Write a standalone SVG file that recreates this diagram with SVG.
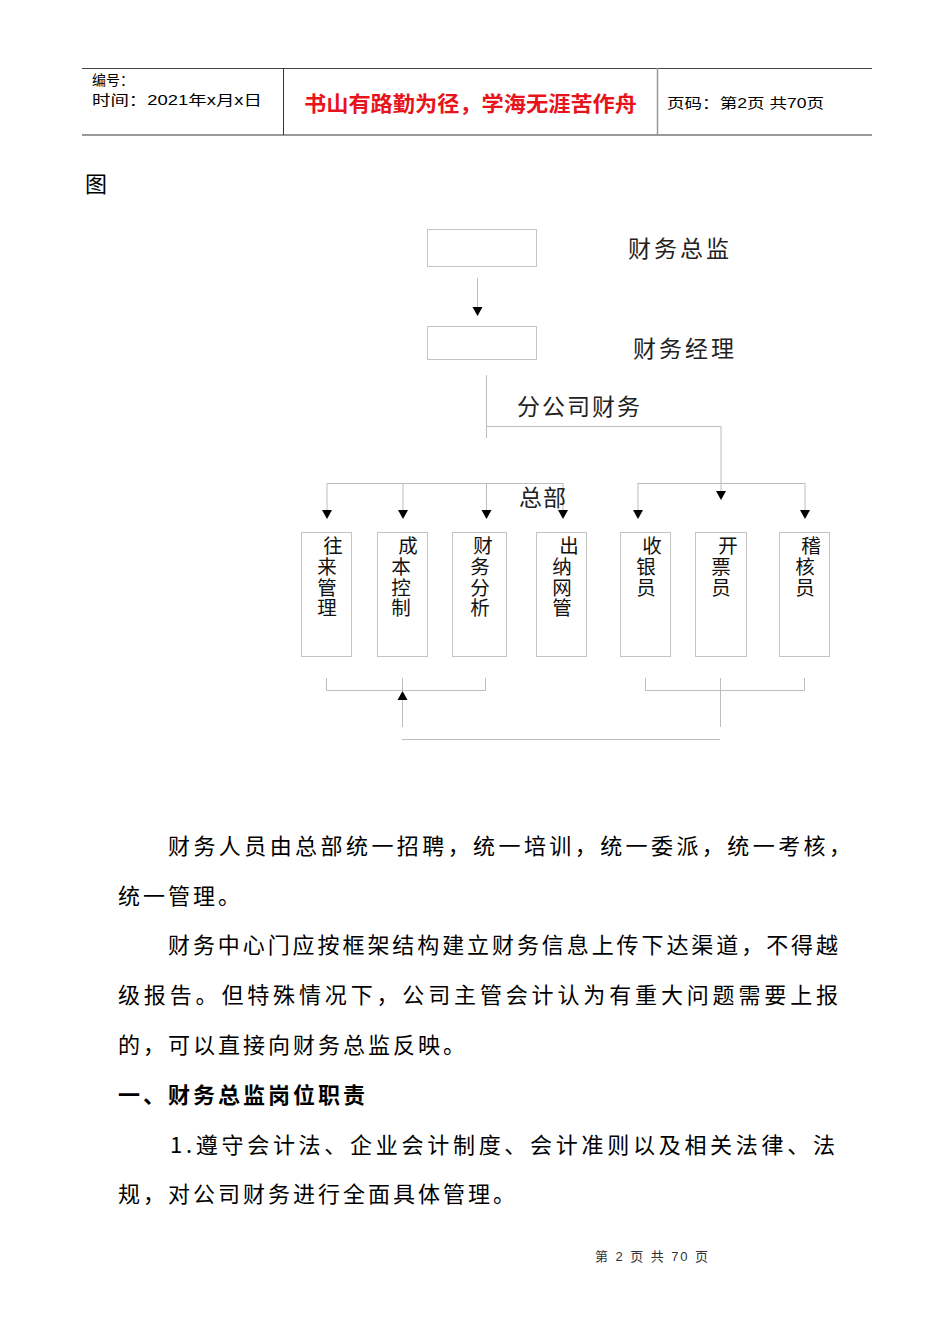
<svg xmlns="http://www.w3.org/2000/svg" width="950" height="1344" viewBox="0 0 950 1344">
<style>
text{font-family:"Liberation Sans","Noto Sans CJK SC",sans-serif;fill:#000}
.cjk{font-family:"Noto Sans CJK SC","Liberation Sans",sans-serif}
.hdr{font-size:14px}
.body{font-size:22px;font-family:"Noto Sans CJK SC",sans-serif}
.lbl{font-size:23px;font-family:"Noto Sans CJK SC",sans-serif;fill:#222}
.vt{font-size:19.5px;font-family:"Noto Sans CJK SC",sans-serif;fill:#111;writing-mode:vertical-rl;text-orientation:upright;letter-spacing:1px}
.box{fill:#fff;stroke:#c4c4c4;stroke-width:1}
.ln{stroke:#bdbdbd;stroke-width:1;fill:none}
.ah{fill:#000}
</style>
<rect width="950" height="1344" fill="#fff"/>
<g id="header">
<line x1="82" y1="68.5" x2="872" y2="68.5" stroke="#444" stroke-width="1"/>
<line x1="82" y1="135" x2="872" y2="135" stroke="#999" stroke-width="2"/>
<line x1="283.5" y1="68" x2="283.5" y2="135" stroke="#333" stroke-width="1"/>
<line x1="657.5" y1="68" x2="657.5" y2="135" stroke="#999" stroke-width="1.5"/>
<text class="hdr cjk" x="92" y="85">编号：</text>
<text class="hdr" x="92" y="105" textLength="170" lengthAdjust="spacingAndGlyphs">时间：2021年x月x日</text>
<text class="cjk" x="304" y="111" font-size="21" font-weight="bold" style="fill:#e8141b" textLength="333" lengthAdjust="spacingAndGlyphs">书山有路勤为径，学海无涯苦作舟</text>
<text class="hdr" x="667" y="108" textLength="157" lengthAdjust="spacingAndGlyphs">页码：第2页 共70页</text>
</g>
<text class="body" x="85" y="192" font-size="22">图</text>
<g id="connectors">
<line class="ln" x1="477.5" y1="278" x2="477.5" y2="307"/>
<polygon class="ah" points="472.5,307 482.5,307 477.5,316"/>
<line class="ln" x1="486.5" y1="375" x2="486.5" y2="438"/>
<line class="ln" x1="486" y1="426.5" x2="721" y2="426.5"/>
<line class="ln" x1="721" y1="426" x2="721" y2="491"/>
<polygon class="ah" points="716,491 726,491 721,500"/>
<line class="ln" x1="327" y1="483.5" x2="563" y2="483.5"/>
<line class="ln" x1="327" y1="483" x2="327" y2="510"/>
<line class="ln" x1="403" y1="483" x2="403" y2="510"/>
<line class="ln" x1="486.5" y1="483" x2="486.5" y2="510"/>
<line class="ln" x1="563" y1="483" x2="563" y2="510"/>
<polygon class="ah" points="322,510 332,510 327,519"/>
<polygon class="ah" points="398,510 408,510 403,519"/>
<polygon class="ah" points="481.5,510 491.5,510 486.5,519"/>
<polygon class="ah" points="558,510 568,510 563,519"/>
<line class="ln" x1="638" y1="483.5" x2="805" y2="483.5"/>
<line class="ln" x1="638" y1="483" x2="638" y2="510"/>
<line class="ln" x1="805" y1="483" x2="805" y2="510"/>
<polygon class="ah" points="633,510 643,510 638,519"/>
<polygon class="ah" points="800,510 810,510 805,519"/>
<polyline class="ln" points="326.5,678 326.5,690.5 485.5,690.5 485.5,678"/>
<line class="ln" x1="402.5" y1="678" x2="402.5" y2="690"/>
<polygon class="ah" points="402.5,691 397.5,700 407.5,700"/>
<line class="ln" x1="402.5" y1="700" x2="402.5" y2="727"/>
<line class="ln" x1="402" y1="739.5" x2="720" y2="739.5"/>
<polyline class="ln" points="645.5,678 645.5,690.5 804.5,690.5 804.5,678"/>
<line class="ln" x1="720.5" y1="678" x2="720.5" y2="727"/>
</g>
<g id="n-zongjian">
<rect class="box" x="427.5" y="229.5" width="109" height="37"/>
<text class="lbl" x="628" y="257" textLength="101" lengthAdjust="spacing">财务总监</text>
</g>
<g id="n-jingli">
<rect class="box" x="427.5" y="326.5" width="109" height="33"/>
<text class="lbl" x="633" y="357" textLength="101" lengthAdjust="spacing">财务经理</text>
</g>
<g id="l-fengongsi">
<text class="lbl" x="517" y="415" textLength="123" lengthAdjust="spacing">分公司财务</text>
</g>
<g id="l-zongbu">
<text class="lbl" x="519" y="506" textLength="47" lengthAdjust="spacing">总部</text>
</g>
<g id="n-wanglai">
<rect class="box" x="301.5" y="532.5" width="50" height="124"/>
<text class="vt" x="333" y="536">往</text>
<text class="vt" x="327" y="557">来管理</text>
</g>
<g id="n-chengben">
<rect class="box" x="377.5" y="532.5" width="50" height="124"/>
<text class="vt" x="408" y="536">成</text>
<text class="vt" x="401" y="557">本控制</text>
</g>
<g id="n-fenxi">
<rect class="box" x="452.5" y="532.5" width="54" height="124"/>
<text class="vt" x="483" y="536">财</text>
<text class="vt" x="480" y="557">务分析</text>
</g>
<g id="n-chuna">
<rect class="box" x="536.5" y="532.5" width="50" height="124"/>
<text class="vt" x="569" y="536">出</text>
<text class="vt" x="562" y="557">纳网管</text>
</g>
<g id="n-shouyin">
<rect class="box" x="620.5" y="532.5" width="50" height="124"/>
<text class="vt" x="652" y="536">收</text>
<text class="vt" x="646" y="557">银员</text>
</g>
<g id="n-kaipiao">
<rect class="box" x="695.5" y="532.5" width="51" height="124"/>
<text class="vt" x="728" y="536">开</text>
<text class="vt" x="721" y="557">票员</text>
</g>
<g id="n-jihe">
<rect class="box" x="779.5" y="532.5" width="50" height="124"/>
<text class="vt" x="811" y="536">稽</text>
<text class="vt" x="805" y="557">核员</text>
</g>
<g id="body">
<text class="body" x="168" y="854" textLength="683" lengthAdjust="spacing">财务人员由总部统一招聘，统一培训，统一委派，统一考核，</text>
<text class="body" x="118" y="904" letter-spacing="3">统一管理。</text>
<text class="body" x="168" y="953" textLength="670" lengthAdjust="spacing">财务中心门应按框架结构建立财务信息上传下达渠道，不得越</text>
<text class="body" x="118" y="1003" textLength="720" lengthAdjust="spacing">级报告。但特殊情况下，公司主管会计认为有重大问题需要上报</text>
<text class="body" x="118" y="1053" letter-spacing="3">的，可以直接向财务总监反映。</text>
<text class="body" x="118" y="1103" font-weight="bold" letter-spacing="3">一、财务总监岗位职责</text>
<text class="body" x="170" y="1153" textLength="665" lengthAdjust="spacing">1.遵守会计法、企业会计制度、会计准则以及相关法律、法</text>
<text class="body" x="118" y="1202" letter-spacing="3">规，对公司财务进行全面具体管理。</text>
</g>
<g id="footer">
<text x="595" y="1261" font-size="13" style="fill:#333" textLength="113" lengthAdjust="spacing">第 2 页 共 70 页</text>
</g>
</svg>
